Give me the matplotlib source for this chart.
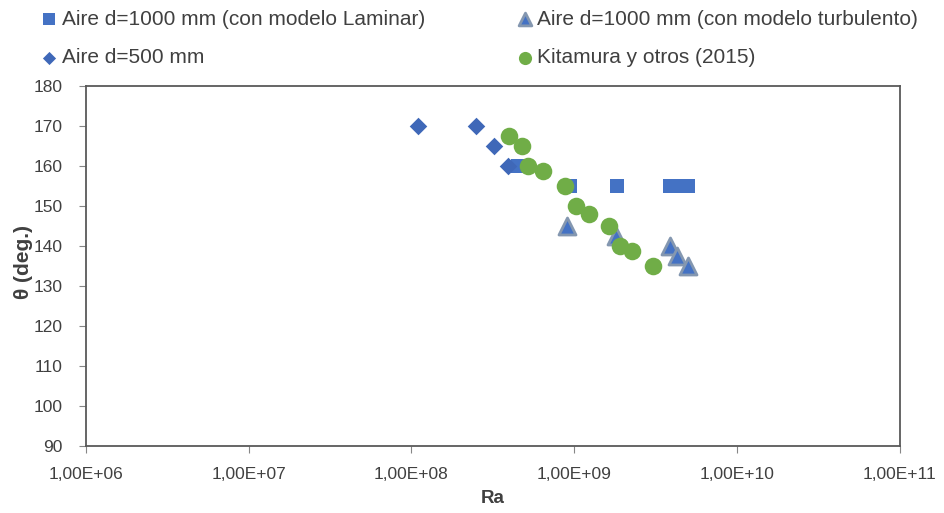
import matplotlib
matplotlib.use("Agg")
import matplotlib.pyplot as plt
import numpy as np
from matplotlib.ticker import FixedLocator, FuncFormatter

plt.rcParams['font.family'] = ['Liberation Sans', 'DejaVu Sans']

# data
ra_laminar = [4.5e8, 9.4e8, 1.84e9, 3.9e9, 4.4e9, 5.0e9]
th_laminar = [160, 155, 155, 155, 155, 155]

ra_turb = [9.0e8, 1.8e9, 3.9e9, 4.3e9, 5.0e9]
th_turb = [145, 142.5, 140, 137.5, 135]

ra_500 = [1.1e8, 2.5e8, 3.2e8, 3.9e8]
th_500 = [170, 170, 165, 160]

ra_kit = [4.0e8, 4.75e8, 5.2e8, 6.45e8, 8.75e8, 1.02e9, 1.23e9, 1.63e9, 1.91e9, 2.27e9, 3.05e9]
th_kit = [167.5, 165, 160, 158.8, 155, 150, 148, 145, 140, 138.8, 135]

fig = plt.figure(figsize=(9.45, 5.13), dpi=100)
ax = fig.add_axes([0.091, 0.1306, 0.861, 0.7014])

blue = '#4472C4'
h1 = ax.scatter(ra_laminar, th_laminar, marker='s', s=115, color=blue, linewidths=0,
                label='Aire d=1000 mm (con modelo Laminar)', zorder=3)
h2 = ax.scatter(ra_turb, th_turb, marker='^', s=150, color=blue, edgecolors='#8497B0',
                linewidths=2, label='Aire d=1000 mm (con modelo turbulento)', zorder=4)
h3 = ax.scatter(ra_500, th_500, marker='D', s=80, color='#3F68B8', linewidths=0,
                label='Aire d=500 mm', zorder=3)
h4 = ax.scatter(ra_kit, th_kit, marker='o', s=160, color='#70AD47', linewidths=0,
                label='Kitamura y otros (2015)', zorder=5)

ax.set_xscale('log')
ax.set_xlim(1e6, 1e11)
ax.set_ylim(90, 180)
ax.xaxis.set_major_locator(FixedLocator([1e6, 1e7, 1e8, 1e9, 1e10, 1e11]))
ax.xaxis.set_minor_locator(FixedLocator([]))
ax.xaxis.set_major_formatter(FuncFormatter(lambda v, p: "1,00E+%02d" % round(np.log10(v))))
ax.set_yticks(range(90, 181, 10))
ax.tick_params(axis='both', labelsize=12.5, length=5, color='#868686', colors='#404040')
ax.tick_params(axis='x', pad=10)
ax.tick_params(axis='y', pad=12)
for sp in ax.spines.values():
    sp.set_color('#595959')
    sp.set_linewidth(1.3)

ax.set_xlabel('Ra', fontsize=13.5, fontweight='bold', color='#404040', labelpad=6)
fig.text(0.025, 0.49, 'θ (deg.)', rotation=90, fontsize=15, fontweight='bold',
         color='#404040', ha='center', va='center')

fig.legend([h1, h3, h2, h4], [h.get_label() for h in [h1, h3, h2, h4]],
           loc='upper left', bbox_to_anchor=(0.021, 1.018), ncol=2, frameon=False,
           fontsize=15, markerscale=0.75, handletextpad=0.1, columnspacing=4.3,
           labelspacing=0.95, handlelength=1.0, labelcolor='#404040')

fig.savefig('out.png', dpi=100)
